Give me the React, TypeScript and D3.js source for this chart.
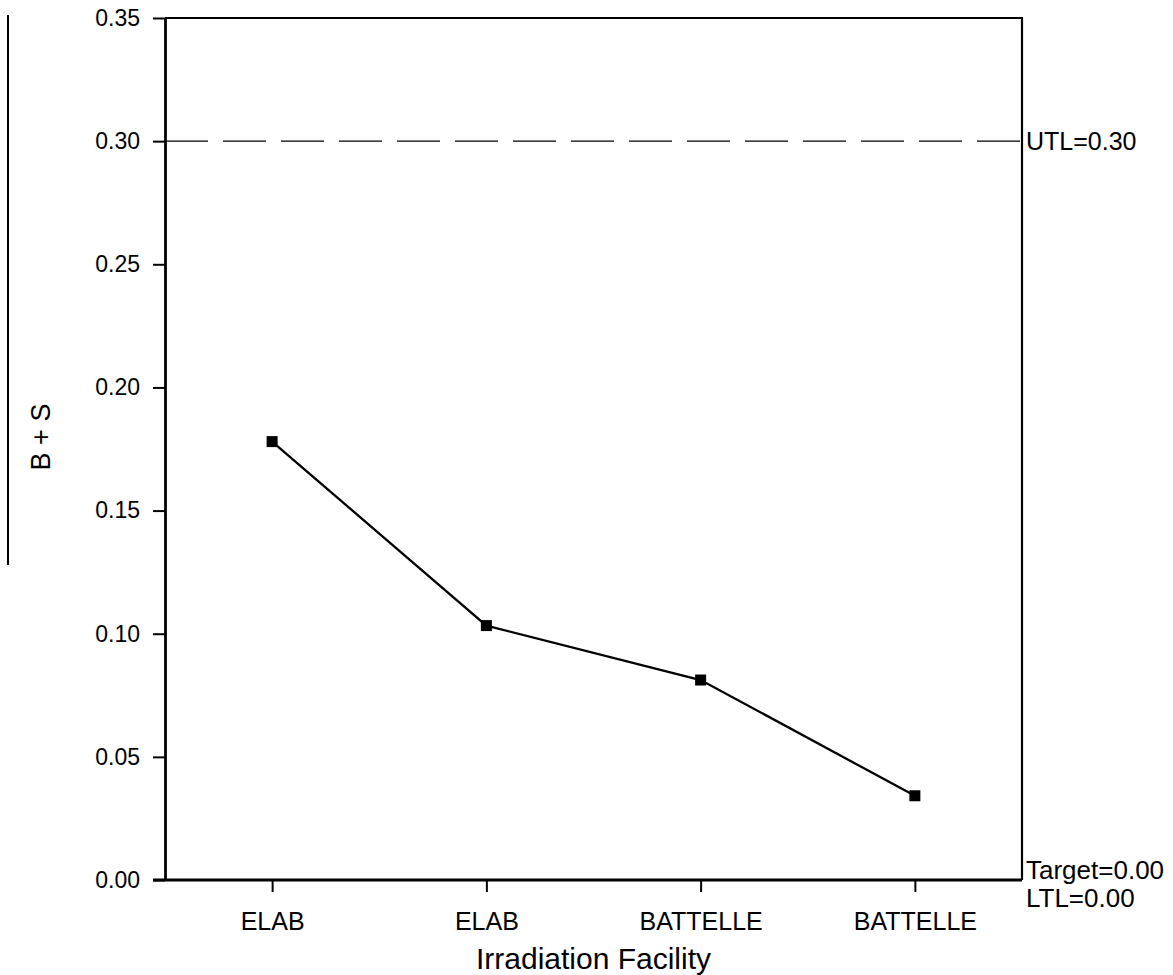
import React, { useRef, useEffect } from 'react';
import * as d3 from 'd3';

// data
const facilities = ['ELAB', 'ELAB', 'BATTELLE', 'BATTELLE'];
const bsValues = [0.178, 0.1033, 0.0812, 0.0342];
const yTicks = [0, 0.05, 0.1, 0.15, 0.2, 0.25, 0.3, 0.35];
const utl = 0.3;
const target = 0.0;
const ltl = 0.0;

const width = 1173;
const height = 975;

const LineChart = () => {
    const svgRef = useRef<SVGSVGElement>(null);

    useEffect(() => {
        const svg = d3.select(svgRef.current);
        svg.selectAll('*').remove();

        const marginTop = 18;
        const marginRight = 151;
        const marginBottom = 95;
        const marginLeft = 165;
        const font = '"Liberation Sans", Arial, sans-serif';

        const idx = facilities.map((_, i) => i);
        const x = d3.scalePoint<number>()
            .domain(idx)
            .range([marginLeft, width - marginRight])
            .padding(0.5);

        const y = d3.scaleLinear()
            .domain([0, 0.35])
            .range([height - marginBottom, marginTop]);

        // stray frame line at far left
        svg.append('line')
            .attr('x1', 8).attr('x2', 8)
            .attr('y1', 15).attr('y2', 565)
            .attr('stroke', '#000').attr('stroke-width', 2);

        // UTL dashed line
        svg.append('line')
            .attr('x1', marginLeft).attr('x2', width - marginRight)
            .attr('y1', y(utl)).attr('y2', y(utl))
            .attr('stroke', '#000').attr('stroke-width', 1.3)
            .attr('stroke-dasharray', '43,15');

        // top and right frame
        svg.append('path')
            .attr('d', `M${marginLeft},${marginTop}H${width - marginRight}V${height - marginBottom}`)
            .attr('fill', 'none').attr('stroke', '#000').attr('stroke-width', 2.2);

        // y axis
        const yAxis = svg.append('g')
            .attr('transform', `translate(${marginLeft},0)`)
            .call(d3.axisLeft(y).tickValues(yTicks).tickFormat(d3.format('.2f')).tickSize(12).tickSizeOuter(0));
        yAxis.select('.domain').attr('stroke-width', 2.8);
        yAxis.selectAll('.tick line').attr('stroke-width', 2);
        yAxis.selectAll('.tick text')
            .attr('font-family', font).attr('font-size', 23).attr('fill', '#000')
            .attr('x', -25);

        // x axis
        const xAxis = svg.append('g')
            .attr('transform', `translate(0,${height - marginBottom})`)
            .call(d3.axisBottom(x).tickFormat(i => facilities[i as number]).tickSize(12).tickSizeOuter(0));
        xAxis.select('.domain').attr('d', `M${marginLeft - 12},0H${width - marginRight}`).attr('stroke-width', 2.8);
        xAxis.selectAll('.tick line').attr('stroke-width', 2);
        xAxis.selectAll('.tick text')
            .attr('font-family', font).attr('font-size', 25).attr('fill', '#000')
            .attr('y', 32);

        // axis titles
        svg.append('text')
            .attr('x', (marginLeft + width - marginRight) / 2)
            .attr('y', 969)
            .attr('text-anchor', 'middle')
            .attr('font-family', font).attr('font-size', 30)
            .text('Irradiation Facility');

        svg.append('text')
            .attr('transform', `translate(50,437) rotate(-90)`)
            .attr('text-anchor', 'middle')
            .attr('font-family', font).attr('font-size', 27)
            .text('B + S');

        // the line and markers
        const line = d3.line<number>()
            .x(i => x(i) as number)
            .y(i => y(bsValues[i]));

        svg.append('path')
            .datum(idx)
            .attr('d', line)
            .attr('fill', 'none')
            .attr('stroke', '#000')
            .attr('stroke-width', 2.3);

        svg.append('g')
            .selectAll('rect')
            .data(idx)
            .join('rect')
            .attr('x', i => (x(i) as number) - 5.5)
            .attr('y', i => y(bsValues[i]) - 5.5)
            .attr('width', 11)
            .attr('height', 11)
            .attr('fill', '#000');

        // limit labels
        const rx = width - marginRight + 4;
        svg.append('text')
            .attr('x', rx).attr('y', y(utl) + 9)
            .attr('font-family', font).attr('font-size', 25)
            .text(`UTL=${utl.toFixed(2)}`);
        svg.append('text')
            .attr('x', rx).attr('y', y(target) - 1)
            .attr('font-family', font).attr('font-size', 26)
            .text(`Target=${target.toFixed(2)}`);
        svg.append('text')
            .attr('x', rx).attr('y', y(ltl) + 27)
            .attr('font-family', font).attr('font-size', 26)
            .text(`LTL=${ltl.toFixed(2)}`);
    }, []);

    return (
        <svg ref={svgRef} width={width} height={height}
            style={{ position: 'absolute', left: 0, top: 0, background: '#fff' }} />
    );
};

export default function App() {
    return <LineChart />;
}
